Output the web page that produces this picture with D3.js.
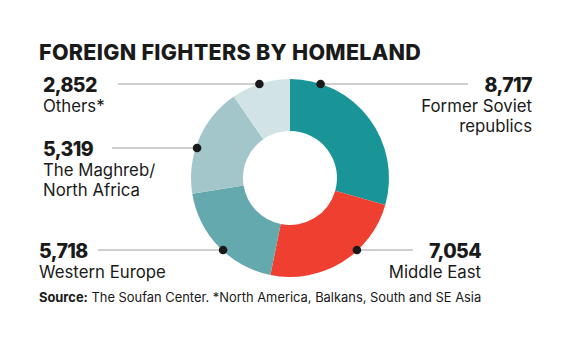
<!DOCTYPE html>
<html>
<head>
<meta charset="utf-8">
<script src="https://cdn.jsdelivr.net/npm/d3@7"></script>
<style>
  html, body { margin: 0; padding: 0; background: #fff; }
  svg { display: block; }
  text { font-family: Inter, "Noto Sans", sans-serif; fill: #1a1a1a; }
</style>
</head>
<body>
<svg id="chart" width="580" height="348"></svg>
<script>
// Fighters by homeland, clockwise from 12 o'clock
const categories = ["Former Soviet republics", "Middle East", "Western Europe", "The Maghreb/North Africa", "Others*"];
const values = [8717, 7054, 5718, 5319, 2852];
const labelLines = [
  ["Former Soviet", "republics"],
  ["Middle East"],
  ["Western Europe"],
  ["The Maghreb/", "North Africa"],
  ["Others*"]
];
const colors = ["#1a9597", "#ef3f31", "#63a9ae", "#a2c6ca", "#d2e3e6"];

const titleText = "FOREIGN FIGHTERS BY HOMELAND";
const sourceBold = "Source:";
const sourceText = " The Soufan Center. *North America, Balkans, South and SE Asia";

// Layout of each callout: side of the ring, text anchor x, leader-line row y, line end x
const callouts = [
  { side: "right", x: 532, y: 84,  lineEnd: 468 },
  { side: "right", x: 481, y: 250, lineEnd: 413 },
  { side: "left",  x: 39,  y: 250, lineEnd: 98 },
  { side: "left",  x: 43,  y: 148, lineEnd: 112 },
  { side: "left",  x: 43,  y: 84,  lineEnd: 118 }
];

const svg = d3.select("#chart");
const cx = 290, cy = 178, outerR = 99, innerR = 47;

svg.append("text")
  .attr("x", 39).attr("y", 60)
  .style("font-size", "21.5px").style("font-weight", 800)
  .style("letter-spacing", "0.3px")
  .text(titleText);

const pie = d3.pie().sort(null).value(d => d)(values);
const arc = d3.arc().innerRadius(innerR).outerRadius(outerR);

const g = svg.append("g").attr("transform", `translate(${cx},${cy})`);
g.selectAll("path").data(pie).join("path")
  .attr("d", arc)
  .attr("fill", (d, i) => colors[i]);

const fmt = d3.format(",");

callouts.forEach((c, i) => {
  const dy = c.y - cy;
  const dx = Math.sqrt(outerR * outerR - dy * dy) * (c.side === "right" ? 1 : -1);
  // dot sits on the outer edge of the ring, slightly inside
  const dotX = cx + dx * 0.985;
  svg.append("line")
    .attr("x1", dotX).attr("x2", c.lineEnd)
    .attr("y1", c.y).attr("y2", c.y)
    .attr("stroke", "#a0a0a0").attr("stroke-width", 1.1);
  svg.append("circle")
    .attr("cx", dotX).attr("cy", c.y).attr("r", 4.3)
    .attr("fill", "#1a1a1a");

  const anchor = c.side === "right" ? "end" : "start";
  svg.append("text")
    .attr("x", c.x).attr("y", c.y + 7.5)
    .attr("text-anchor", anchor)
    .style("font-size", "19.5px").style("font-weight", 800)
    .style("letter-spacing", "-0.6px")
    .text(fmt(values[i]));
  labelLines[i].forEach((ln, j) => {
    svg.append("text")
      .attr("x", c.x).attr("y", c.y + 28 + j * 20)
      .attr("text-anchor", anchor)
      .style("font-size", "16.8px").style("font-weight", 400)
      .text(ln);
  });
});

const src = svg.append("text")
  .attr("x", 39).attr("y", 302)
  .style("font-size", "12.9px");
src.append("tspan").style("font-weight", 700).text(sourceBold);
src.append("tspan").style("font-weight", 400).text(sourceText);
</script>
</body>
</html>
